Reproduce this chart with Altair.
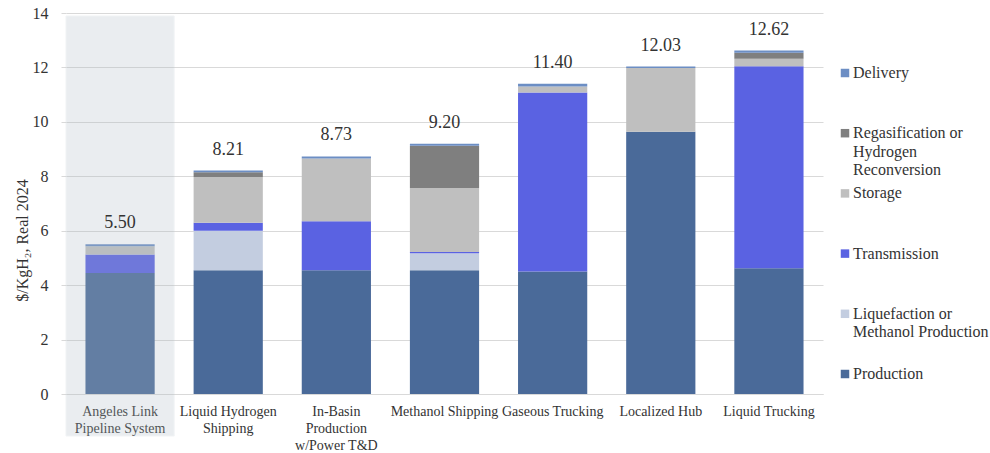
import altair as alt
import pandas as pd

categories = [
    "Angeles Link Pipeline System",
    "Liquid Hydrogen Shipping",
    "In-Basin Production w/Power T&D",
    "Methanol Shipping",
    "Gaseous Trucking",
    "Localized Hub",
    "Liquid Trucking",
]
category_lines = [
    ["Angeles Link", "Pipeline System"],
    ["Liquid Hydrogen", "Shipping"],
    ["In-Basin", "Production", "w/Power T&D"],
    ["Methanol Shipping"],
    ["Gaseous Trucking"],
    ["Localized Hub"],
    ["Liquid Trucking"],
]
series = [
    "Production",
    "Liquefaction or Methanol Production",
    "Transmission",
    "Storage",
    "Regasification or Hydrogen Reconversion",
    "Delivery",
]
series_legend_text = [
    "Production",
    "Liquefaction or\nMethanol Production",
    "Transmission",
    "Storage",
    "Regasification or\nHydrogen\nReconversion",
    "Delivery",
]
production = [4.45, 4.55, 4.55, 4.55, 4.50, 9.64, 4.62]
liquefaction = [0.00, 1.45, 0.00, 0.62, 0.00, 0.00, 0.00]
transmission = [0.68, 0.29, 1.80, 0.05, 6.58, 0.00, 7.42]
storage = [0.30, 1.68, 2.30, 2.35, 0.22, 2.34, 0.28]
regas = [0.00, 0.18, 0.00, 1.55, 0.00, 0.00, 0.22]
delivery = [0.07, 0.06, 0.08, 0.08, 0.10, 0.05, 0.08]
totals = [5.50, 8.21, 8.73, 9.20, 11.40, 12.03, 12.62]
colors = ["#4A6A99", "#C3CDE0", "#5A62E2", "#BFBFBF", "#7F7F7F", "#6C8EC4"]
highlight = ["Angeles Link Pipeline System"]
y_ticks = [0, 2, 4, 6, 8, 10, 12, 14]

FONT = "Liberation Serif"
PAD_INNER = 0.36

values_by_series = [production, liquefaction, transmission, storage, regas, delivery]
rows = []
for si, (s, vals) in enumerate(zip(series, values_by_series)):
    for c, v in zip(categories, vals):
        if v > 0:
            rows.append({"category": c, "series": s, "value": v, "order": si})
df = pd.DataFrame(rows)
df_tot = pd.DataFrame({"category": categories, "total": totals,
                       "label": [f"{t:.2f}" for t in totals]})
df_hl = pd.DataFrame({"category": highlight})
df_leg = pd.DataFrame({"series": series, "text": series_legend_text})

# multi-line x labels
expr = "''"
for c, lines in reversed(list(zip(categories, category_lines))):
    arr = "[" + ",".join("'" + l + "'" for l in lines) + "]"
    expr = f"datum.value == '{c}' ? {arr} : ({expr})"

x_scale = alt.Scale(domain=categories, paddingInner=PAD_INNER, paddingOuter=PAD_INNER / 2)
color_scale = alt.Scale(domain=series, range=colors)

x_enc = alt.X(
    "category:N", scale=x_scale, sort=categories, title=None,
    axis=alt.Axis(labelExpr=expr, labelAngle=0, labelFont=FONT, labelFontSize=14,
                  labelColor="#333333", labelLineHeight=17, labelBaseline="top",
                  ticks=False, labelPadding=10, domainColor="#D9D9D9", grid=False,
                  labelLimit=200),
)

bars = alt.Chart(df).mark_bar().encode(
    x=x_enc,
    y=alt.Y("value:Q", stack="zero", scale=alt.Scale(domain=[0, 14], nice=False),
            title="$/KgH₂, Real 2024",
            axis=alt.Axis(values=y_ticks, labelFont=FONT, labelFontSize=16, labelColor="#333333",
                          titleFont=FONT, titleFontSize=16, titleColor="#333333",
                          titleFontWeight="normal", gridColor="#D9D9D9", tickColor="#D9D9D9",
                          tickSize=5, labelPadding=13, domain=False,
                          titleX=-36, titleY=227)),
    color=alt.Color("series:N", scale=color_scale, legend=None),
    order=alt.Order("order:Q", sort="ascending"),
)

shade = alt.Chart(df_hl).mark_bar(
    color="#AEBCC4", opacity=0.25, stroke="#C9D2DA", strokeWidth=1, strokeOpacity=1,
    width=alt.RelativeBandSize(band=1 / (1 - PAD_INNER)),
).encode(
    x=alt.X("category:N", scale=x_scale, sort=categories),
    y=alt.value(3),
    y2=alt.value(423),
)

labels = alt.Chart(df_tot).mark_text(
    baseline="alphabetic", dy=-16, font=FONT, fontSize=18, color="#333333"
).encode(
    x=alt.X("category:N", scale=x_scale, sort=categories),
    y=alt.Y("total:Q"),
    text="label:N",
)

main = alt.layer(bars, shade, labels).properties(width=757, height=381)

leg_y = alt.Y("series:N",
              scale=alt.Scale(type="point", domain=list(reversed(series)), range=[60, 361], padding=0),
              axis=None)
leg_sq = alt.Chart(df_leg).mark_square(size=72, opacity=1).encode(
    x=alt.value(12), y=leg_y,
    color=alt.Color("series:N", scale=color_scale, legend=None),
)
leg_tx = alt.Chart(df_leg).mark_text(
    align="left", baseline="top", dy=-8, font=FONT, fontSize=16, lineHeight=18.5,
    lineBreak="\n", color="#333333",
).encode(x=alt.value(20), y=leg_y, text="text:N")
legend = alt.layer(leg_sq, leg_tx).properties(width=150, height=381)

chart = alt.hconcat(main, legend, spacing=10).properties(
    padding={"left": 14, "top": 5, "right": 0, "bottom": 0}
).configure(font=FONT).configure_view(stroke=None)

chart.save("out.html", embed_options={"renderer": "svg", "actions": False})
